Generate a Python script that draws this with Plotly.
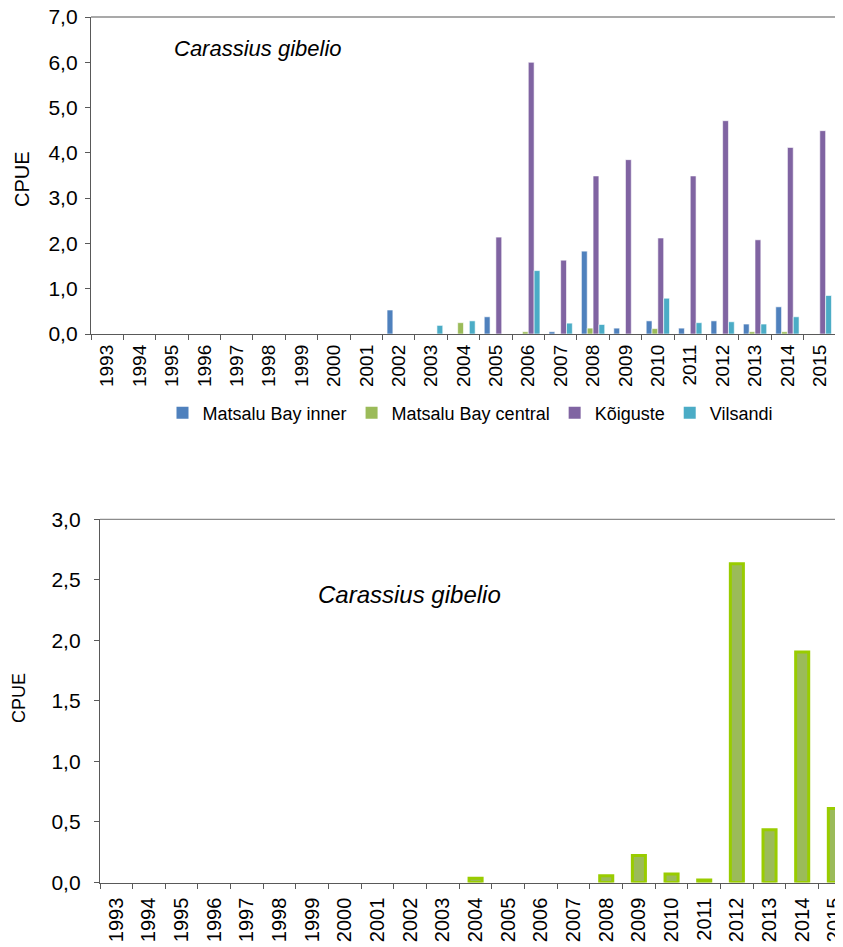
import plotly.graph_objects as go

years = [str(y) for y in range(1993, 2016)]

# Top chart series (CPUE per site)
matsalu_inner = [0, 0, 0, 0, 0, 0, 0, 0, 0, 0.53, 0, 0, 0.38, 0, 0.05, 1.83, 0.13, 0.29, 0.13, 0.29, 0.22, 0.60, 0]
matsalu_central = [0, 0, 0, 0, 0, 0, 0, 0, 0, 0, 0, 0.25, 0, 0.05, 0, 0.13, 0, 0.12, 0, 0, 0.05, 0.05, 0]
koiguste = [0, 0, 0, 0, 0, 0, 0, 0, 0, 0, 0, 0, 2.14, 6.0, 1.63, 3.49, 3.85, 2.12, 3.49, 4.71, 2.08, 4.12, 4.49]
vilsandi = [0, 0, 0, 0, 0, 0, 0, 0, 0, 0, 0.19, 0.29, 0, 1.40, 0.24, 0.21, 0, 0.79, 0.25, 0.27, 0.22, 0.38, 0.85]

# Bottom chart series
bottom_cpue = [0, 0, 0, 0, 0, 0, 0, 0, 0, 0, 0, 0.035, 0, 0, 0, 0.055, 0.224, 0.07, 0.02, 2.633, 0.436, 1.903, 0.612]

series_names = ["Matsalu Bay inner", "Matsalu Bay central", "Kõiguste", "Vilsandi"]
series_values = [matsalu_inner, matsalu_central, koiguste, vilsandi]
series_colors = ["#4F81BD", "#9BBB59", "#8064A2", "#4BACC6"]

FONT = "Liberation Sans, Arial, sans-serif"
OFF = 8                      # default page body margin
W, H = 843 - OFF, 947 - OFF  # figure size so it ends at the window edge


def px(x):  # screen x -> paper fraction
    return (x - OFF) / W


def py(y):  # screen y -> paper fraction (from bottom)
    return 1 - (y - OFF) / H


fig = go.Figure()
for name, vals, col in zip(series_names, series_values, series_colors):
    fig.add_trace(go.Bar(
        x=years, y=vals, name=name, xaxis="x", yaxis="y",
        marker=dict(color=col, line=dict(color="white", width=[0.6 if v else 0 for v in vals])),
    ))

fig.add_trace(go.Bar(
    x=years, y=bottom_cpue, name="Carassius gibelio", xaxis="x2", yaxis="y2",
    showlegend=False, width=0.4, offset=-0.2,
    marker=dict(color="#9BBB59",
                line=dict(color="#99CC00", width=[3 if v else 0 for v in bottom_cpue])),
))

axis_col = "#595959"
common_x = dict(
    type="category", tickangle=-90, showline=True, linecolor=axis_col, linewidth=1.3,
    ticks="outside", ticklen=5, tickcolor=axis_col, tickson="boundaries",
    showgrid=False, zeroline=False, automargin=False, ticklabeloverflow="allow",
)
common_y = dict(
    showline=True, linecolor=axis_col, linewidth=1.3, ticks="outside", ticklen=5,
    tickcolor=axis_col, showgrid=False, zeroline=False, tickformat=".1f", automargin=False,
    ticklabeloverflow="allow",
)

top_x = [px(91), px(836)]
top_y = [py(334), py(17)]
bot_x = [px(100), 1.0]
bot_y = [py(882.5), py(519.3)]

fig.update_layout(
    width=W, height=H,
    margin=dict(l=0, r=0, t=0, b=0, pad=0, autoexpand=False),
    paper_bgcolor="white", plot_bgcolor="white",
    separators=", ",
    barmode="group", bargap=0.28, bargroupgap=0,
    font=dict(family=FONT, color="black"),
    xaxis=dict(common_x, domain=top_x, anchor="y", range=[-0.5, 22.5],
               tickfont=dict(family=FONT, size=19, color="black"), ticklabelstandoff=2),
    yaxis=dict(common_y, domain=top_y, anchor="x", range=[0, 7], dtick=1,
               tickfont=dict(family=FONT, size=21, color="black"), ticklabelstandoff=3),
    xaxis2=dict(common_x, domain=bot_x, anchor="y2", range=[-0.5, -0.5 + (843 - 100) / 32.66],
                tickfont=dict(family=FONT, size=20, color="black"), ticklabelstandoff=6),
    yaxis2=dict(common_y, domain=bot_y, anchor="x2", range=[0, 3], dtick=0.5,
                tickfont=dict(family=FONT, size=21, color="black"), ticklabelstandoff=9),
    legend=dict(
        orientation="h", x=px(470), y=py(413), xanchor="center", yanchor="middle",
        font=dict(family=FONT, size=18, color="black"), bgcolor="rgba(0,0,0,0)",
        itemwidth=30, traceorder="normal",
    ),
    showlegend=True,
)

border_col = "#8c8c8c"
shapes = [
    dict(type="line", xref="x domain", yref="y domain", x0=0, x1=1, y0=1, y1=1,
         line=dict(color=border_col, width=1.3)),
    dict(type="line", xref="x domain", yref="y domain", x0=1, x1=1, y0=0, y1=1,
         line=dict(color=border_col, width=1.3)),
    dict(type="line", xref="x2 domain", yref="y2 domain", x0=0, x1=1, y0=1, y1=1,
         line=dict(color=border_col, width=1.3)),
]
fig.update_layout(shapes=shapes)

annotations = [
    dict(text="<i>Carassius gibelio</i>", xref="paper", yref="paper",
         x=px(172), y=py(48), xanchor="left", yanchor="middle", showarrow=False,
         font=dict(family=FONT, size=22, color="black")),
    dict(text="<i>Carassius gibelio</i>", xref="paper", yref="paper",
         x=px(316), y=py(594), xanchor="left", yanchor="middle", showarrow=False,
         font=dict(family=FONT, size=24, color="black")),
    dict(text="CPUE", xref="paper", yref="paper", x=px(22), y=py(179),
         xanchor="center", yanchor="middle", textangle=-90, showarrow=False,
         font=dict(family=FONT, size=20, color="black")),
    dict(text="CPUE", xref="paper", yref="paper", x=px(19), y=py(698),
         xanchor="center", yanchor="middle", textangle=-90, showarrow=False,
         font=dict(family=FONT, size=18, color="black")),
]
fig.update_layout(annotations=annotations)

fig.write_html("out.html")
